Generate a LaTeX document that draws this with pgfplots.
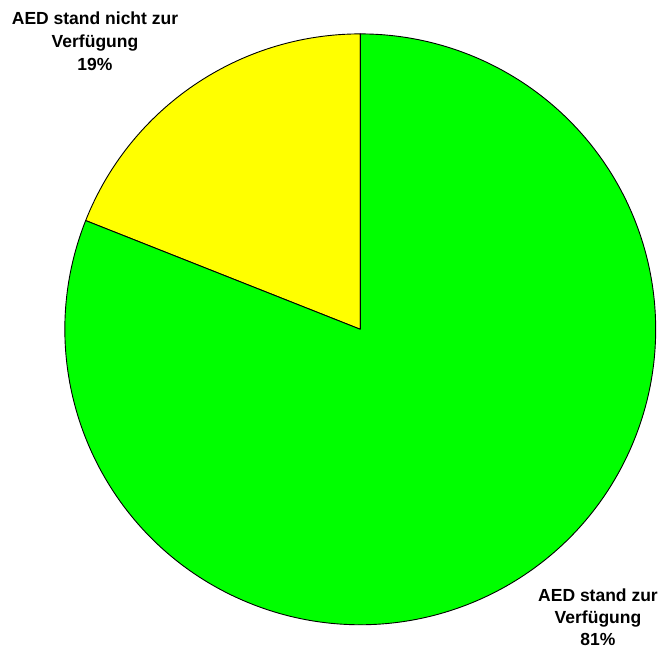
\documentclass[border=0pt]{standalone}
\usepackage{pgfplots}
\pgfplotsset{compat=1.18}
\usepackage{pgfplotstable}
\usepackage{fontspec}
\setmainfont{Liberation Sans}

\definecolor{pieGreen}{RGB}{0,255,0}
\definecolor{pieYellow}{RGB}{255,255,0}

% shares of the two answers, in percent
\pgfplotstableread{
share
19
81
}\piedata

\begin{document}
\begin{tikzpicture}
\pgfplotstablegetelem{0}{share}\of\piedata \let\shareNo\pgfplotsretval
\pgfplotstablegetelem{1}{share}\of\piedata \let\shareYes\pgfplotsretval
\pgfmathsetmacro{\angStart}{90}
\pgfmathsetmacro{\angMid}{90+3.6*\shareNo}
\pgfmathsetmacro{\angEnd}{\angMid+3.6*\shareYes}
\begin{axis}[
  hide axis,
  scale only axis,
  width=663bp, height=649bp,
  xmin=0, xmax=663, ymin=0, ymax=649,
  clip=false,
]
% yellow wedge: AED not available
\filldraw[fill=pieYellow, draw=black, line width=0.9bp, line join=round]
  (axis cs:360.3,319.7) -- ++(\angStart:295.4bp)
  arc[start angle=\angStart, end angle=\angMid, radius=295.4bp] -- cycle;
% green wedge: AED available
\filldraw[fill=pieGreen, draw=black, line width=0.9bp, line join=round]
  (axis cs:360.3,319.7) -- ++(\angMid:295.4bp)
  arc[start angle=\angMid, end angle=\angEnd, radius=295.4bp] -- cycle;

% slice labels (anchor on the baseline of the last line)
\node[anchor=base, align=center, inner sep=0pt,
      font=\fontsize{17.5bp}{23bp}\selectfont\bfseries]
  at (axis cs:95,578) {AED stand nicht zur\\Verfügung\\\shareNo\%};
\node[anchor=base, align=center, inner sep=0pt,
      font=\fontsize{17.5bp}{22bp}\selectfont\bfseries]
  at (axis cs:598,3.5) {AED stand zur\\Verfügung\\\shareYes\%};
\end{axis}
\pgfresetboundingbox
\useasboundingbox (0,0) rectangle (663bp,649bp);
\end{tikzpicture}
\end{document}
